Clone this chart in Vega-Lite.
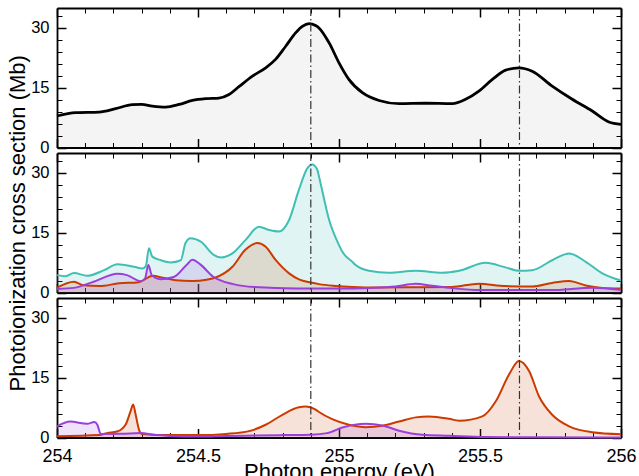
{
  "$schema": "https://vega.github.io/schema/vega-lite/v6.json",
  "background": "white",
  "padding": {"left": 6, "top": 7, "right": 5, "bottom": 0},
  "spacing": 5,
  "bounds": "flush",
  "config": {
    "view": {"stroke": null},
    "axis": {
      "grid": false, "domain": false, "labels": false, "tickColor": "black", "domainColor": "black",
      "zindex": 1, "labelFont": "Liberation Sans", "labelFontSize": 17, "labelColor": "black",
      "titleFont": "Liberation Sans", "titleFontSize": 22, "titleFontWeight": "normal", "titleColor": "black",
      "labelFlush": false, "labelOverlap": false
    }
  },
  "datasets": {
    "vlines": [{"e": 254.9}, {"e": 255.64}],
    "top": [
      {"e":254.000,"v":7.9},{"e":254.066,"v":8.75},{"e":254.149,"v":8.9},{"e":254.208,"v":9.75},
      {"e":254.267,"v":10.75},{"e":254.300,"v":10.8},{"e":254.338,"v":10.4},{"e":254.385,"v":10.15},
      {"e":254.433,"v":10.8},{"e":254.480,"v":11.8},{"e":254.527,"v":12.25},{"e":254.574,"v":12.4},
      {"e":254.610,"v":13.3},{"e":254.645,"v":15.25},{"e":254.693,"v":17.9},{"e":254.740,"v":20.0},
      {"e":254.775,"v":22.1},{"e":254.811,"v":25.4},{"e":254.846,"v":28.75},{"e":254.870,"v":30.4},
      {"e":254.894,"v":31.1},{"e":254.917,"v":30.6},{"e":254.929,"v":30.0},{"e":254.965,"v":26.25},
      {"e":255.000,"v":21.25},{"e":255.035,"v":17.1},{"e":255.083,"v":13.75},{"e":255.142,"v":11.8},
      {"e":255.213,"v":11.0},{"e":255.307,"v":11.1},{"e":255.402,"v":11.0},{"e":255.449,"v":12.1},
      {"e":255.496,"v":14.15},{"e":255.544,"v":17.1},{"e":255.591,"v":19.4},{"e":255.638,"v":20.0},
      {"e":255.685,"v":19.15},{"e":255.756,"v":15.4},{"e":255.827,"v":12.1},{"e":255.898,"v":9.15},
      {"e":255.957,"v":6.4},{"e":256.000,"v":5.8}
    ],
    "mid": [
      {"s":"cyan","e":254.000,"v":4.36},{"s":"cyan","e":254.030,"v":4.1},{"s":"cyan","e":254.060,"v":4.9},
      {"s":"cyan","e":254.107,"v":4.2},{"s":"cyan","e":254.167,"v":5.6},{"s":"cyan","e":254.214,"v":7.1},
      {"s":"cyan","e":254.273,"v":6.45},{"s":"cyan","e":254.303,"v":6.0},{"s":"cyan","e":254.315,"v":6.6},
      {"s":"cyan","e":254.326,"v":11.1},{"s":"cyan","e":254.338,"v":9.0},{"s":"cyan","e":254.368,"v":8.1},
      {"s":"cyan","e":254.403,"v":7.55},{"s":"cyan","e":254.439,"v":8.1},{"s":"cyan","e":254.456,"v":12.5},
      {"s":"cyan","e":254.474,"v":13.6},{"s":"cyan","e":254.510,"v":12.75},{"s":"cyan","e":254.557,"v":9.4},
      {"s":"cyan","e":254.583,"v":8.8},{"s":"cyan","e":254.622,"v":9.8},{"s":"cyan","e":254.669,"v":13.2},
      {"s":"cyan","e":254.716,"v":16.5},{"s":"cyan","e":254.752,"v":15.7},{"s":"cyan","e":254.787,"v":15.3},
      {"s":"cyan","e":254.823,"v":18.2},{"s":"cyan","e":254.858,"v":25.8},{"s":"cyan","e":254.888,"v":31.2},
      {"s":"cyan","e":254.905,"v":32.1},{"s":"cyan","e":254.923,"v":30.8},{"s":"cyan","e":254.929,"v":29.1},
      {"s":"cyan","e":254.965,"v":18.2},{"s":"cyan","e":255.000,"v":11.9},{"s":"cyan","e":255.012,"v":10.2},
      {"s":"cyan","e":255.047,"v":7.7},{"s":"cyan","e":255.059,"v":6.9},{"s":"cyan","e":255.106,"v":5.45},
      {"s":"cyan","e":255.177,"v":4.95},{"s":"cyan","e":255.272,"v":5.45},{"s":"cyan","e":255.366,"v":4.95},
      {"s":"cyan","e":255.426,"v":5.45},{"s":"cyan","e":255.520,"v":7.45},{"s":"cyan","e":255.590,"v":6.3},
      {"s":"cyan","e":255.638,"v":5.45},{"s":"cyan","e":255.685,"v":5.6},{"s":"cyan","e":255.756,"v":8.1},
      {"s":"cyan","e":255.816,"v":9.8},{"s":"cyan","e":255.875,"v":7.7},{"s":"cyan","e":255.934,"v":4.8},
      {"s":"cyan","e":256.000,"v":3.0},
      {"s":"orange","e":254.000,"v":1.2},{"s":"orange","e":254.060,"v":2.7},{"s":"orange","e":254.095,"v":1.8},
      {"s":"orange","e":254.150,"v":1.6},{"s":"orange","e":254.220,"v":2.3},{"s":"orange","e":254.290,"v":2.6},
      {"s":"orange","e":254.340,"v":4.2},{"s":"orange","e":254.375,"v":3.7},{"s":"orange","e":254.420,"v":3.1},
      {"s":"orange","e":254.480,"v":2.9},{"s":"orange","e":254.530,"v":3.2},{"s":"orange","e":254.560,"v":3.7},
      {"s":"orange","e":254.622,"v":6.45},{"s":"orange","e":254.667,"v":10.65},{"s":"orange","e":254.710,"v":12.4},
      {"s":"orange","e":254.740,"v":11.5},{"s":"orange","e":254.776,"v":8.1},{"s":"orange","e":254.823,"v":4.8},
      {"s":"orange","e":254.858,"v":3.3},{"s":"orange","e":254.900,"v":2.5},{"s":"orange","e":254.929,"v":2.1},
      {"s":"orange","e":254.988,"v":1.66},{"s":"orange","e":255.050,"v":1.4},{"s":"orange","e":255.130,"v":1.26},
      {"s":"orange","e":255.250,"v":1.3},{"s":"orange","e":255.400,"v":1.4},{"s":"orange","e":255.496,"v":2.2},
      {"s":"orange","e":255.590,"v":1.6},{"s":"orange","e":255.685,"v":1.5},{"s":"orange","e":255.756,"v":2.4},
      {"s":"orange","e":255.816,"v":2.9},{"s":"orange","e":255.875,"v":1.75},{"s":"orange","e":255.934,"v":1.16},
      {"s":"orange","e":256.000,"v":1.0},
      {"s":"purple","e":254.000,"v":0.9},{"s":"purple","e":254.060,"v":1.16},{"s":"purple","e":254.130,"v":2.7},
      {"s":"purple","e":254.214,"v":4.7},{"s":"purple","e":254.248,"v":4.36},{"s":"purple","e":254.297,"v":2.85},
      {"s":"purple","e":254.312,"v":3.5},{"s":"purple","e":254.324,"v":6.9},{"s":"purple","e":254.336,"v":4.36},
      {"s":"purple","e":254.366,"v":3.35},{"s":"purple","e":254.414,"v":3.9},{"s":"purple","e":254.461,"v":7.05},
      {"s":"purple","e":254.480,"v":8.2},{"s":"purple","e":254.508,"v":7.05},{"s":"purple","e":254.553,"v":4.0},
      {"s":"purple","e":254.625,"v":2.1},{"s":"purple","e":254.700,"v":1.35},{"s":"purple","e":254.850,"v":1.0},
      {"s":"purple","e":255.000,"v":1.0},{"s":"purple","e":255.106,"v":1.16},{"s":"purple","e":255.200,"v":1.5},
      {"s":"purple","e":255.272,"v":2.2},{"s":"purple","e":255.330,"v":1.7},{"s":"purple","e":255.400,"v":1.1},
      {"s":"purple","e":255.500,"v":0.6},{"s":"purple","e":255.750,"v":0.6},{"s":"purple","e":255.898,"v":1.2},
      {"s":"purple","e":256.000,"v":0.6}
    ],
    "bot": [
      {"s":"orange","e":254.000,"v":0.3},{"s":"orange","e":254.150,"v":0.6},{"s":"orange","e":254.177,"v":1.1},
      {"s":"orange","e":254.213,"v":1.5},{"s":"orange","e":254.243,"v":3.2},{"s":"orange","e":254.261,"v":6.6},
      {"s":"orange","e":254.270,"v":8.25},{"s":"orange","e":254.279,"v":5.7},{"s":"orange","e":254.291,"v":1.9},
      {"s":"orange","e":254.300,"v":0.9},{"s":"orange","e":254.400,"v":0.6},{"s":"orange","e":254.500,"v":0.6},
      {"s":"orange","e":254.600,"v":0.9},{"s":"orange","e":254.681,"v":1.6},{"s":"orange","e":254.740,"v":3.2},
      {"s":"orange","e":254.799,"v":5.7},{"s":"orange","e":254.858,"v":7.6},{"s":"orange","e":254.882,"v":7.75},
      {"s":"orange","e":254.917,"v":7.0},{"s":"orange","e":254.929,"v":6.4},{"s":"orange","e":254.976,"v":4.6},
      {"s":"orange","e":255.035,"v":3.2},{"s":"orange","e":255.095,"v":2.6},{"s":"orange","e":255.154,"v":2.95},
      {"s":"orange","e":255.213,"v":4.0},{"s":"orange","e":255.272,"v":5.05},{"s":"orange","e":255.319,"v":5.3},
      {"s":"orange","e":255.390,"v":4.7},{"s":"orange","e":255.426,"v":4.2},{"s":"orange","e":255.508,"v":5.3},
      {"s":"orange","e":255.556,"v":9.1},{"s":"orange","e":255.603,"v":15.8},{"s":"orange","e":255.638,"v":19.2},
      {"s":"orange","e":255.674,"v":16.7},{"s":"orange","e":255.709,"v":10.35},{"s":"orange","e":255.756,"v":5.7},
      {"s":"orange","e":255.816,"v":2.8},{"s":"orange","e":255.898,"v":1.34},{"s":"orange","e":256.000,"v":0.84},
      {"s":"purple","e":254.000,"v":2.8},{"s":"purple","e":254.047,"v":4.0},{"s":"purple","e":254.107,"v":3.45},
      {"s":"purple","e":254.133,"v":3.9},{"s":"purple","e":254.143,"v":3.2},{"s":"purple","e":254.155,"v":0.9},
      {"s":"purple","e":254.227,"v":0.93},{"s":"purple","e":254.297,"v":1.1},{"s":"purple","e":254.344,"v":0.67},
      {"s":"purple","e":254.400,"v":0.4},{"s":"purple","e":254.500,"v":0.25},{"s":"purple","e":254.600,"v":0.4},
      {"s":"purple","e":254.700,"v":0.5},{"s":"purple","e":254.800,"v":0.6},{"s":"purple","e":254.900,"v":0.7},
      {"s":"purple","e":254.958,"v":1.1},{"s":"purple","e":255.012,"v":2.5},{"s":"purple","e":255.095,"v":3.45},
      {"s":"purple","e":255.154,"v":3.0},{"s":"purple","e":255.213,"v":1.7},{"s":"purple","e":255.296,"v":0.67},
      {"s":"purple","e":255.390,"v":0.42},{"s":"purple","e":255.520,"v":0.1},{"s":"purple","e":255.700,"v":0.05},
      {"s":"purple","e":256.000,"v":0.0}
    ]
  },
  "vconcat": [
    {
      "width": 564, "height": 139.5,
      "data": {"name": "top"},
      "resolve": {"axis": {"x": "independent", "y": "independent"}},
      "layer": [
        {"mark": {"type": "area", "interpolate": "monotone", "color": "#000000", "fillOpacity": 0.045},
         "encoding": {
           "x": {"field": "e", "type": "quantitative", "scale": {"domain": [254, 256], "nice": false, "zero": false},
                 "axis": {"orient": "bottom", "values": [254, 254.5, 255, 255.5, 256], "tickSize": -9, "tickWidth": 1.5, "domain": true, "domainWidth": 1.8, "title": null}},
           "y": {"field": "v", "type": "quantitative", "scale": {"domain": [0, 35], "nice": false},
                 "axis": {"orient": "left", "values": [0, 15, 30], "tickSize": -9, "tickWidth": 1.5, "domain": true, "domainWidth": 1.8, "labels": true, "labelPadding": 17, "labelFontSize": 16.5, "title": null}}}},
        {"mark": {"type": "line", "interpolate": "monotone", "color": "#000000", "strokeWidth": 2.8},
         "encoding": {
           "x": {"field": "e", "type": "quantitative", "scale": {"domain": [254, 256], "nice": false, "zero": false},
                 "axis": {"orient": "bottom", "values": [254.1, 254.2, 254.3, 254.4, 254.6, 254.7, 254.8, 254.9, 255.1, 255.2, 255.3, 255.4, 255.6, 255.7, 255.8, 255.9], "tickSize": -5, "tickWidth": 1, "title": null}},
           "y": {"field": "v", "type": "quantitative", "scale": {"domain": [0, 35], "nice": false},
                 "axis": {"orient": "left", "values": [3, 6, 9, 12, 18, 21, 24, 27, 33], "tickSize": -5, "tickWidth": 1, "title": null}}}},
        {"mark": {"type": "point", "opacity": 0},
         "encoding": {
           "x": {"field": "e", "type": "quantitative", "scale": {"domain": [254, 256], "nice": false, "zero": false},
                 "axis": {"orient": "top", "values": [254, 254.5, 255, 255.5, 256], "tickSize": -9, "tickWidth": 1.5, "domain": true, "domainWidth": 1.8, "title": null}},
           "y": {"field": "v", "type": "quantitative", "scale": {"domain": [0, 35], "nice": false},
                 "axis": {"orient": "right", "values": [0, 15, 30], "tickSize": -9, "tickWidth": 1.5, "domain": true, "domainWidth": 1.8, "title": null}}}},
        {"mark": {"type": "point", "opacity": 0},
         "encoding": {
           "x": {"field": "e", "type": "quantitative", "scale": {"domain": [254, 256], "nice": false, "zero": false},
                 "axis": {"orient": "top", "values": [254.1, 254.2, 254.3, 254.4, 254.6, 254.7, 254.8, 254.9, 255.1, 255.2, 255.3, 255.4, 255.6, 255.7, 255.8, 255.9], "tickSize": -5, "tickWidth": 1, "title": null}},
           "y": {"field": "v", "type": "quantitative", "scale": {"domain": [0, 35], "nice": false},
                 "axis": {"orient": "right", "values": [3, 6, 9, 12, 18, 21, 24, 27, 33], "tickSize": -5, "tickWidth": 1, "title": null}}}},
        {"data": {"name": "vlines"},
         "mark": {"type": "rule", "color": "#333333", "strokeWidth": 1.2, "strokeDash": [8, 3, 1.5, 3]},
         "encoding": {"x": {"field": "e", "type": "quantitative", "scale": {"domain": [254, 256], "nice": false, "zero": false}, "axis": null}}}
      ]
    },
    {
      "width": 564, "height": 139.5,
      "data": {"name": "mid"},
      "resolve": {"axis": {"x": "independent", "y": "independent"}},
      "layer": [
        {"transform": [{"filter": "datum.s === 'cyan'"}],
         "mark": {"type": "area", "interpolate": "monotone", "color": "#40bfb2", "fillOpacity": 0.16},
         "encoding": {
           "x": {"field": "e", "type": "quantitative", "scale": {"domain": [254, 256], "nice": false, "zero": false},
                 "axis": {"orient": "bottom", "values": [254, 254.5, 255, 255.5, 256], "tickSize": -9, "tickWidth": 1.5, "domain": true, "domainWidth": 1.8, "title": null}},
           "y": {"field": "v", "type": "quantitative", "scale": {"domain": [0, 35], "nice": false},
                 "axis": {"orient": "left", "values": [0, 15, 30], "tickSize": -9, "tickWidth": 1.5, "domain": true, "domainWidth": 1.8, "labels": true, "labelPadding": 17, "labelFontSize": 16.5, "title": "Photoionization cross section (Mb)", "titlePadding": 1}}}},
        {"transform": [{"filter": "datum.s === 'orange'"}],
         "mark": {"type": "area", "interpolate": "monotone", "color": "#cc3a00", "fillOpacity": 0.15},
         "encoding": {
           "x": {"field": "e", "type": "quantitative", "scale": {"domain": [254, 256], "nice": false, "zero": false},
                 "axis": {"orient": "top", "values": [254, 254.5, 255, 255.5, 256], "tickSize": -9, "tickWidth": 1.5, "domain": true, "domainWidth": 1.8, "title": null}},
           "y": {"field": "v", "type": "quantitative", "scale": {"domain": [0, 35], "nice": false},
                 "axis": {"orient": "right", "values": [0, 15, 30], "tickSize": -9, "tickWidth": 1.5, "domain": true, "domainWidth": 1.8, "title": null}}}},
        {"transform": [{"filter": "datum.s === 'purple'"}],
         "mark": {"type": "area", "interpolate": "monotone", "color": "#9b3fdc", "fillOpacity": 0.15},
         "encoding": {
           "x": {"field": "e", "type": "quantitative", "scale": {"domain": [254, 256], "nice": false, "zero": false}, "axis": null},
           "y": {"field": "v", "type": "quantitative", "scale": {"domain": [0, 35], "nice": false}, "axis": null}}},
        {"transform": [{"filter": "datum.s === 'cyan'"}],
         "mark": {"type": "line", "interpolate": "monotone", "color": "#40bfb2", "strokeWidth": 2},
         "encoding": {
           "x": {"field": "e", "type": "quantitative", "scale": {"domain": [254, 256], "nice": false, "zero": false},
                 "axis": {"orient": "bottom", "values": [254.1, 254.2, 254.3, 254.4, 254.6, 254.7, 254.8, 254.9, 255.1, 255.2, 255.3, 255.4, 255.6, 255.7, 255.8, 255.9], "tickSize": -5, "tickWidth": 1, "title": null}},
           "y": {"field": "v", "type": "quantitative", "scale": {"domain": [0, 35], "nice": false},
                 "axis": {"orient": "left", "values": [3, 6, 9, 12, 18, 21, 24, 27, 33], "tickSize": -5, "tickWidth": 1, "title": null}}}},
        {"transform": [{"filter": "datum.s === 'orange'"}],
         "mark": {"type": "line", "interpolate": "monotone", "color": "#cc3a00", "strokeWidth": 2},
         "encoding": {
           "x": {"field": "e", "type": "quantitative", "scale": {"domain": [254, 256], "nice": false, "zero": false},
                 "axis": {"orient": "top", "values": [254.1, 254.2, 254.3, 254.4, 254.6, 254.7, 254.8, 254.9, 255.1, 255.2, 255.3, 255.4, 255.6, 255.7, 255.8, 255.9], "tickSize": -5, "tickWidth": 1, "title": null}},
           "y": {"field": "v", "type": "quantitative", "scale": {"domain": [0, 35], "nice": false},
                 "axis": {"orient": "right", "values": [3, 6, 9, 12, 18, 21, 24, 27, 33], "tickSize": -5, "tickWidth": 1, "title": null}}}},
        {"transform": [{"filter": "datum.s === 'purple'"}],
         "mark": {"type": "line", "interpolate": "monotone", "color": "#9b3fdc", "strokeWidth": 2},
         "encoding": {
           "x": {"field": "e", "type": "quantitative", "scale": {"domain": [254, 256], "nice": false, "zero": false}, "axis": null},
           "y": {"field": "v", "type": "quantitative", "scale": {"domain": [0, 35], "nice": false}, "axis": null}}},
        {"data": {"name": "vlines"},
         "mark": {"type": "rule", "color": "#333333", "strokeWidth": 1.2, "strokeDash": [8, 3, 1.5, 3]},
         "encoding": {"x": {"field": "e", "type": "quantitative", "scale": {"domain": [254, 256], "nice": false, "zero": false}, "axis": null}}}
      ]
    },
    {
      "width": 564, "height": 139.5,
      "data": {"name": "bot"},
      "resolve": {"axis": {"x": "independent", "y": "independent"}},
      "layer": [
        {"transform": [{"filter": "datum.s === 'orange'"}],
         "mark": {"type": "area", "interpolate": "monotone", "color": "#cc3a00", "fillOpacity": 0.15},
         "encoding": {
           "x": {"field": "e", "type": "quantitative", "scale": {"domain": [254, 256], "nice": false, "zero": false},
                 "axis": {"orient": "bottom", "values": [254, 254.5, 255, 255.5, 256], "tickSize": -9, "tickWidth": 1.5, "domain": true, "domainWidth": 1.8, "labels": true, "labelPadding": 19, "labelFontSize": 18, "labelExpr": "'' + datum.value", "title": "Photon energy (eV)", "titlePadding": -4.5}},
           "y": {"field": "v", "type": "quantitative", "scale": {"domain": [0, 35], "nice": false},
                 "axis": {"orient": "left", "values": [0, 15, 30], "tickSize": -9, "tickWidth": 1.5, "domain": true, "domainWidth": 1.8, "labels": true, "labelPadding": 17, "labelFontSize": 16.5, "title": null}}}},
        {"transform": [{"filter": "datum.s === 'purple'"}],
         "mark": {"type": "area", "interpolate": "monotone", "color": "#9b3fdc", "fillOpacity": 0.15},
         "encoding": {
           "x": {"field": "e", "type": "quantitative", "scale": {"domain": [254, 256], "nice": false, "zero": false},
                 "axis": {"orient": "top", "values": [254, 254.5, 255, 255.5, 256], "tickSize": -9, "tickWidth": 1.5, "domain": true, "domainWidth": 1.8, "title": null}},
           "y": {"field": "v", "type": "quantitative", "scale": {"domain": [0, 35], "nice": false},
                 "axis": {"orient": "right", "values": [0, 15, 30], "tickSize": -9, "tickWidth": 1.5, "domain": true, "domainWidth": 1.8, "title": null}}}},
        {"transform": [{"filter": "datum.s === 'orange'"}],
         "mark": {"type": "line", "interpolate": "monotone", "color": "#cc3a00", "strokeWidth": 2},
         "encoding": {
           "x": {"field": "e", "type": "quantitative", "scale": {"domain": [254, 256], "nice": false, "zero": false},
                 "axis": {"orient": "bottom", "values": [254.1, 254.2, 254.3, 254.4, 254.6, 254.7, 254.8, 254.9, 255.1, 255.2, 255.3, 255.4, 255.6, 255.7, 255.8, 255.9], "tickSize": -5, "tickWidth": 1, "title": null}},
           "y": {"field": "v", "type": "quantitative", "scale": {"domain": [0, 35], "nice": false},
                 "axis": {"orient": "left", "values": [3, 6, 9, 12, 18, 21, 24, 27, 33], "tickSize": -5, "tickWidth": 1, "title": null}}}},
        {"transform": [{"filter": "datum.s === 'purple'"}],
         "mark": {"type": "line", "interpolate": "monotone", "color": "#9b3fdc", "strokeWidth": 2},
         "encoding": {
           "x": {"field": "e", "type": "quantitative", "scale": {"domain": [254, 256], "nice": false, "zero": false},
                 "axis": {"orient": "top", "values": [254.1, 254.2, 254.3, 254.4, 254.6, 254.7, 254.8, 254.9, 255.1, 255.2, 255.3, 255.4, 255.6, 255.7, 255.8, 255.9], "tickSize": -5, "tickWidth": 1, "title": null}},
           "y": {"field": "v", "type": "quantitative", "scale": {"domain": [0, 35], "nice": false},
                 "axis": {"orient": "right", "values": [3, 6, 9, 12, 18, 21, 24, 27, 33], "tickSize": -5, "tickWidth": 1, "title": null}}}},
        {"data": {"name": "vlines"},
         "mark": {"type": "rule", "color": "#333333", "strokeWidth": 1.2, "strokeDash": [8, 3, 1.5, 3]},
         "encoding": {"x": {"field": "e", "type": "quantitative", "scale": {"domain": [254, 256], "nice": false, "zero": false}, "axis": null}}}
      ]
    }
  ]
}
